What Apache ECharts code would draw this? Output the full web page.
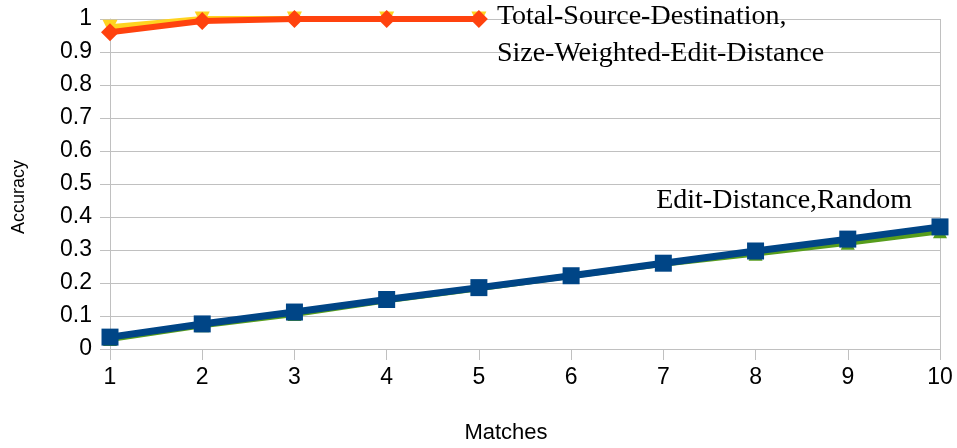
<!DOCTYPE html>
<html>
<head>
<meta charset="utf-8">
<script src="https://cdn.jsdelivr.net/npm/echarts@6/dist/echarts.min.js"></script>
<style>
html,body{margin:0;padding:0;background:#fff;}
#chart{width:957px;height:448px;}
</style>
</head>
<body>
<div id="chart"></div>
<script>
const categories = ['1','2','3','4','5','6','7','8','9','10'];
const sizeWeighted = [0.975, 1.0, 1.0, 1.0, 1.0];
const totalSourceDest = [0.96, 0.994, 1.0, 1.0, 1.0];
const randomVals = [0.03, 0.072, 0.106, 0.148, 0.184, 0.222, 0.258, 0.289, 0.322, 0.357];
const editDistance = [0.036, 0.076, 0.112, 0.150, 0.186, 0.222, 0.260, 0.297, 0.333, 0.370];
const yTicks = [0, 0.1, 0.2, 0.3, 0.4, 0.5, 0.6, 0.7, 0.8, 0.9, 1];
const labelTop = ['Total-Source-Destination,', 'Size-Weighted-Edit-Distance'];
const labelBottom = 'Edit-Distance,Random';

const chart = echarts.init(document.getElementById('chart'), null, {renderer: 'canvas'});
const gridColor = '#c0c0c0';
const sansFont = '"Liberation Sans", Arial, sans-serif';
const serifFont = '"Liberation Serif", "Times New Roman", serif';

chart.setOption({
  animation: false,
  backgroundColor: '#ffffff',
  grid: {left: 110, right: 17, top: 19, bottom: 99, containLabel: false},
  xAxis: {
    type: 'category',
    data: categories,
    boundaryGap: false,
    axisLine: {show: true, lineStyle: {color: gridColor, width: 1}},
    axisTick: {show: true, length: 11, lineStyle: {color: gridColor}, alignWithLabel: true},
    axisLabel: {color: '#000', fontFamily: sansFont, fontSize: 23, margin: 17},
    splitLine: {show: true, interval: function (i) { return i === categories.length - 1; }, lineStyle: {color: gridColor}}
  },
  yAxis: {
    type: 'value',
    min: 0, max: 1, interval: 0.1,
    axisLine: {show: true, lineStyle: {color: gridColor}},
    axisTick: {show: true, length: 10, lineStyle: {color: gridColor}},
    axisLabel: {color: '#000', fontFamily: sansFont, fontSize: 23, margin: 18,
      formatter: function (v) { return String(Math.round(v * 10) / 10); }},
    splitLine: {show: true, lineStyle: {color: gridColor}}
  },
  series: [
    {
      name: 'Size-Weighted-Edit-Distance', type: 'line', data: sizeWeighted,
      symbol: 'triangle', symbolRotate: 180, symbolSize: 15,
      lineStyle: {color: '#ffd320', width: 6}, itemStyle: {color: '#ffd320'}
    },
    {
      name: 'Total-Source-Destination', type: 'line', data: totalSourceDest,
      symbol: 'diamond', symbolSize: 18,
      lineStyle: {color: '#ff420e', width: 6}, itemStyle: {color: '#ff420e'}
    },
    {
      name: 'Random', type: 'line', data: randomVals,
      symbol: 'triangle', symbolSize: 14,
      lineStyle: {color: '#579d1c', width: 6}, itemStyle: {color: '#579d1c'}
    },
    {
      name: 'Edit-Distance', type: 'line', data: editDistance,
      symbol: 'rect', symbolSize: 17,
      lineStyle: {color: '#004586', width: 7}, itemStyle: {color: '#004586'}
    }
  ]
});

const pTop = chart.convertToPixel({gridIndex: 0}, [totalSourceDest.length - 1, totalSourceDest[totalSourceDest.length - 1]]);
const pBot = chart.convertToPixel({gridIndex: 0}, [editDistance.length - 1, editDistance[editDistance.length - 1]]);

chart.setOption({
  graphic: [
    {type: 'text', x: pTop[0] + 18, y: pTop[1] - 2,
      style: {text: labelTop[0], font: '28px ' + serifFont, fill: '#000', textAlign: 'left', textVerticalAlign: 'middle'}},
    {type: 'text', x: pTop[0] + 18, y: pTop[1] + 35,
      style: {text: labelTop[1], font: '28px ' + serifFont, fill: '#000', textAlign: 'left', textVerticalAlign: 'middle'}},
    {type: 'text', x: pBot[0] - 28, y: pBot[1] - 26,
      style: {text: labelBottom, font: '28px ' + serifFont, fill: '#000', textAlign: 'right', textVerticalAlign: 'middle'}},
    {type: 'text', x: 19, y: 197, rotation: Math.PI / 2,
      style: {text: 'Accuracy', font: '18px ' + sansFont, fill: '#000', textAlign: 'center', textVerticalAlign: 'middle'}},
    {type: 'text', x: 506, y: 433,
      style: {text: 'Matches', font: '22px ' + sansFont, fill: '#000', textAlign: 'center', textVerticalAlign: 'middle'}}
  ]
});
</script>
</body>
</html>
